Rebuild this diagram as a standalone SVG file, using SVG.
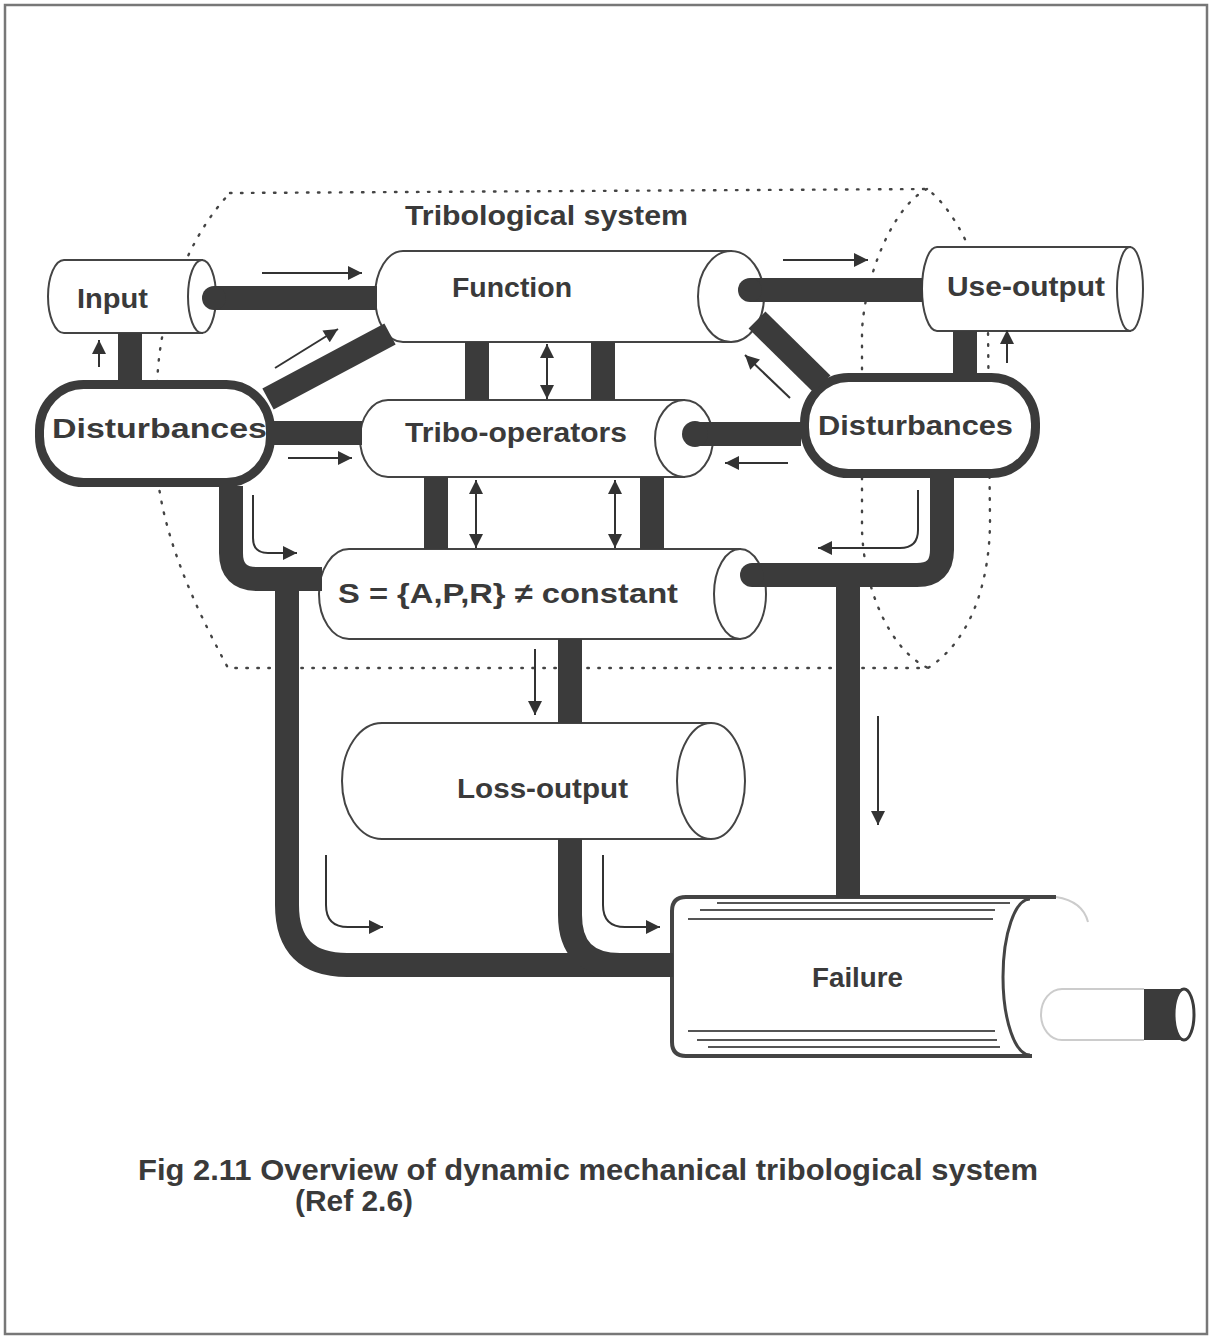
<svg xmlns="http://www.w3.org/2000/svg" width="1212" height="1339" viewBox="0 0 1212 1339">
<defs>
<style>
.pipe{fill:#fff;stroke:#444;stroke-width:2}
.pill{fill:#fff;stroke:#3b3b3b;stroke-width:9}
.bar{fill:none;stroke:#3b3b3b;stroke-width:24;stroke-linecap:butt}
.cap{fill:#3b3b3b}
.thin{fill:none;stroke:#333;stroke-width:2}
.dot{fill:none;stroke:#444;stroke-width:2.4;stroke-dasharray:1.5 9.5;stroke-linecap:round}
.lbl{font-family:"Liberation Sans",Arial,sans-serif;font-weight:700;font-size:28px;fill:#3a3a3a}
.cap1{font-family:"Liberation Sans Narrow","Liberation Sans",Arial,sans-serif;font-weight:700;font-size:30px;fill:#3a3a3a}
.stripe{fill:none;stroke:#555;stroke-width:2}
.faint{fill:none;stroke:#ccc;stroke-width:2}
</style>
<marker id="ah" viewBox="0 0 10 10" refX="10" refY="5" markerWidth="15" markerHeight="14" markerUnits="userSpaceOnUse" orient="auto-start-reverse">
<path d="M0,0 L10,5 L0,10 z" fill="#333"/>
</marker>
</defs>
<rect width="1212" height="1339" fill="#fff"/>
<rect x="5" y="5" width="1202" height="1329" fill="none" stroke="#777" stroke-width="2.5"/>

<g id="boundary">
<path class="dot" d="M230,193 L927,189 C950,205 985,260 988,330 L990,520 C990,580 972,640 928,668 L228,668 C205,625 163,545 157,470 L157,390 C158,310 190,235 230,193"/>
<path class="dot" d="M927,189 C895,205 866,270 862,330 L862,530 C864,590 890,650 928,668"/>
<text class="lbl" x="405" y="225" font-size="27" textLength="283" lengthAdjust="spacingAndGlyphs">Tribological system</text>
</g>

<g id="node-input">
<path class="pipe" d="M202,260 H64 A16,36.5 0 0 0 64,333 H202 Z"/>
<ellipse class="pipe" cx="202" cy="296.5" rx="14" ry="36.5"/>
<text class="lbl" x="77" y="308" textLength="71" lengthAdjust="spacingAndGlyphs">Input</text>
</g>

<g id="node-function">
<path class="pipe" d="M731,251 H403 A28,45.5 0 0 0 403,342 H731 Z"/>
<ellipse class="pipe" cx="731" cy="296.5" rx="33" ry="45.5"/>
<text class="lbl" x="452" y="297" textLength="120" lengthAdjust="spacingAndGlyphs">Function</text>
</g>

<g id="node-use-output">
<path class="pipe" d="M1130,247 H937 A15,42 0 0 0 937,331 H1130 Z"/>
<ellipse class="pipe" cx="1130" cy="289" rx="13" ry="42"/>
<text class="lbl" x="947" y="296" textLength="158" lengthAdjust="spacingAndGlyphs">Use-output</text>
</g>

<g id="node-disturbances-left">
<rect class="pill" x="39.5" y="384.5" width="231" height="98" rx="44" ry="46"/>
<text class="lbl" x="52" y="438" textLength="215" lengthAdjust="spacingAndGlyphs">Disturbances</text>
</g>

<g id="node-disturbances-right">
<rect class="pill" x="804.5" y="377.5" width="231" height="96" rx="44" ry="46"/>
<text class="lbl" x="818" y="435" textLength="195" lengthAdjust="spacingAndGlyphs">Disturbances</text>
</g>

<g id="node-tribo-operators">
<path class="pipe" d="M684,400 H388 A28,38.5 0 0 0 388,477 H684 Z"/>
<ellipse class="pipe" cx="684" cy="438.5" rx="29" ry="38.5"/>
<text class="lbl" x="405" y="442" textLength="222" lengthAdjust="spacingAndGlyphs">Tribo-operators</text>
</g>

<g id="node-s">
<path class="pipe" d="M740,549 H349 A30,45 0 0 0 349,639 H740 Z"/>
<ellipse class="pipe" cx="740" cy="594" rx="26" ry="45"/>
<text class="lbl" x="338" y="603" textLength="340" lengthAdjust="spacingAndGlyphs">S = {A,P,R} ≠ constant</text>
</g>

<g id="node-loss-output">
<path class="pipe" d="M711,723 H382 A40,58 0 0 0 382,839 H711 Z"/>
<ellipse class="pipe" cx="711" cy="781" rx="34" ry="58"/>
<text class="lbl" x="457" y="798" textLength="171" lengthAdjust="spacingAndGlyphs">Loss-output</text>
</g>

<g id="node-failure">
<path class="faint" d="M1056,897 C1075,900 1085,910 1088,922"/>
<path class="faint" d="M1144,989 H1062 A21,25.5 0 0 0 1062,1040 H1144"/>
<path fill="#fff" stroke="#444" stroke-width="4" d="M1056,897 H686 Q672,897 672,911 V1042 Q672,1056 686,1056 H1032"/>
<path fill="none" stroke="#444" stroke-width="3" d="M1030,899 A27,78 0 0 0 1030,1055"/>
<path class="stripe" d="M717,903 H1010 M700,910 H995 M688,919 H993 M688,1031 H995 M697,1040 H997 M708,1047 H1000"/>
<text class="lbl" x="812" y="987" textLength="91" lengthAdjust="spacingAndGlyphs">Failure</text>
<rect x="1144" y="989" width="40" height="51" fill="#3b3b3b"/>
<ellipse cx="1184" cy="1014.5" rx="10" ry="25.5" fill="#fff" stroke="#3b3b3b" stroke-width="3"/>
</g>

<g id="connectors">
<path class="bar" d="M214,298 H377"/>
<circle class="cap" cx="214" cy="298" r="12"/>
<path class="bar" stroke-width="21" d="M130,333 V381"/>
<path class="bar" stroke-width="22" d="M268,399 L390,334"/>
<path class="bar" stroke-width="22" d="M274,433 H362"/>
<path class="bar" stroke-width="22" d="M231,486 V553 Q231,579 257,579 H322"/>
<path class="bar" stroke-width="25" d="M287,579 V905 Q287,965 347,965 H673"/>
<path class="bar" stroke-width="25" d="M570,639 V723"/>
<path class="bar" stroke-width="25" d="M570,839 V915 Q570,965 620,965"/>
<path class="bar" d="M750,290 H923"/>
<circle class="cap" cx="750" cy="290" r="12"/>
<path class="bar" stroke-width="22" d="M757,320 L822,384"/>
<path class="bar" d="M965,331 V374"/>
<path class="bar" stroke-width="26" d="M695,434 H801"/>
<circle class="cap" cx="695" cy="434" r="13"/>
<path class="bar" d="M942,478 V550 Q942,575 917,575 H752"/>
<circle class="cap" cx="752" cy="575" r="12"/>
<path class="bar" stroke-width="28" d="M848,575 V898"/>
<path class="bar" stroke-width="22" d="M477,342 V400 M603,342 V400"/>
<path class="bar" stroke-width="24" d="M436,477 V549 M652,477 V549"/>

<path class="thin" marker-end="url(#ah)" d="M262,273 H362"/>
<path class="thin" marker-end="url(#ah)" d="M275,368 L338,329"/>
<path class="thin" marker-end="url(#ah)" d="M99,367 V340"/>
<path class="thin" marker-end="url(#ah)" d="M288,458 H352"/>
<path class="thin" marker-end="url(#ah)" d="M253,495 V538 Q253,553 268,553 H297"/>
<path class="thin" marker-start="url(#ah)" marker-end="url(#ah)" d="M547,344 V399"/>
<path class="thin" marker-start="url(#ah)" marker-end="url(#ah)" d="M476,480 V548"/>
<path class="thin" marker-start="url(#ah)" marker-end="url(#ah)" d="M615,480 V548"/>
<path class="thin" marker-end="url(#ah)" d="M535,649 V715"/>
<path class="thin" marker-end="url(#ah)" d="M326,855 V905 Q326,927 348,927 H383"/>
<path class="thin" marker-end="url(#ah)" d="M603,855 V905 Q603,927 625,927 H660"/>
<path class="thin" marker-end="url(#ah)" d="M783,260 H868"/>
<path class="thin" marker-end="url(#ah)" d="M790,398 L745,355"/>
<path class="thin" marker-end="url(#ah)" d="M1007,363 V330"/>
<path class="thin" marker-end="url(#ah)" d="M788,463 H725"/>
<path class="thin" marker-end="url(#ah)" d="M918,490 V530 Q918,548 900,548 H818"/>
<path class="thin" marker-end="url(#ah)" d="M878,716 V825"/>
</g>

<g id="caption">
<text class="cap1" x="138" y="1180" textLength="900" lengthAdjust="spacingAndGlyphs">Fig 2.11  Overview of dynamic mechanical tribological system</text>
<text class="cap1" x="295" y="1211" textLength="118" lengthAdjust="spacingAndGlyphs">(Ref 2.6)</text>
</g>
</svg>
